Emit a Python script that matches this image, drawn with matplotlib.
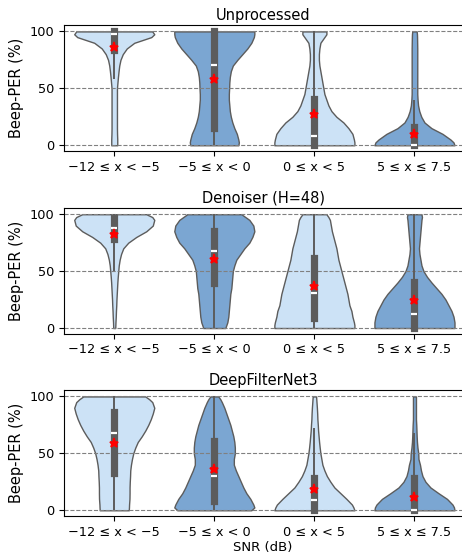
import matplotlib.pyplot as plt

# Catégories SNR et titres des panneaux
categories = ["−12 ≤ x < −5", "−5 ≤ x < 0", "0 ≤ x < 5", "5 ≤ x ≤ 7.5"]
titles = ["Unprocessed", "Denoiser (H=48)", "DeepFilterNet3"]

# Niveaux de Beep-PER où la densité (demi-largeur) est lue
levels = [0, 2.5, 5, 10, 15, 20, 25, 30, 35, 40, 45, 50,
          55, 60, 65, 70, 75, 80, 85, 90, 95, 97.5, 100]

# Profils de densité (un par catégorie)
unproc_shape = [
    [0.03, 0.03, 0.03, 0.028, 0.027, 0.027, 0.027, 0.027, 0.027, 0.027, 0.027, 0.027,
     0.032, 0.037, 0.043, 0.05, 0.062, 0.085, 0.125, 0.2, 0.37, 0.4, 0.38],
    [0.24, 0.245, 0.24, 0.225, 0.2, 0.18, 0.165, 0.155, 0.15, 0.145, 0.145, 0.148,
     0.15, 0.155, 0.165, 0.185, 0.23, 0.28, 0.33, 0.37, 0.395, 0.4, 0.4],
    [0.4, 0.4, 0.395, 0.38, 0.34, 0.29, 0.22, 0.17, 0.14, 0.12, 0.1, 0.09,
     0.08, 0.07, 0.06, 0.05, 0.045, 0.045, 0.05, 0.06, 0.1, 0.12, 0.12],
    [0.4, 0.39, 0.36, 0.28, 0.17, 0.1, 0.068, 0.048, 0.036, 0.031, 0.028, 0.028,
     0.028, 0.028, 0.028, 0.028, 0.028, 0.028, 0.028, 0.027, 0.026, 0.025, 0.022],
]
denoiser_shape = [
    [0.01, 0.011, 0.012, 0.015, 0.017, 0.02, 0.022, 0.025, 0.028, 0.031, 0.035, 0.04,
     0.045, 0.054, 0.068, 0.09, 0.14, 0.22, 0.32, 0.385, 0.4, 0.38, 0.32],
    [0.11, 0.12, 0.13, 0.14, 0.145, 0.15, 0.155, 0.16, 0.17, 0.175, 0.18, 0.185,
     0.2, 0.22, 0.26, 0.3, 0.35, 0.38, 0.4, 0.39, 0.35, 0.31, 0.27],
    [0.4, 0.4, 0.395, 0.38, 0.37, 0.35, 0.34, 0.33, 0.315, 0.3, 0.285, 0.27,
     0.255, 0.24, 0.23, 0.22, 0.205, 0.19, 0.175, 0.165, 0.155, 0.14, 0.12],
    [0.4, 0.4, 0.4, 0.39, 0.37, 0.34, 0.31, 0.27, 0.22, 0.17, 0.125, 0.09,
     0.07, 0.06, 0.05, 0.045, 0.05, 0.055, 0.06, 0.065, 0.07, 0.075, 0.07],
]
dfn3_shape = [
    [0.145, 0.147, 0.148, 0.152, 0.153, 0.153, 0.155, 0.158, 0.16, 0.167, 0.177, 0.19,
     0.21, 0.235, 0.275, 0.31, 0.34, 0.365, 0.385, 0.4, 0.38, 0.35, 0.31],
    [0.37, 0.4, 0.39, 0.36, 0.32, 0.29, 0.265, 0.24, 0.215, 0.195, 0.195, 0.205,
     0.205, 0.2, 0.19, 0.175, 0.16, 0.14, 0.12, 0.1, 0.075, 0.06, 0.04],
    [0.4, 0.39, 0.375, 0.32, 0.26, 0.2, 0.16, 0.125, 0.1, 0.08, 0.07, 0.06,
     0.053, 0.047, 0.042, 0.037, 0.034, 0.03, 0.028, 0.025, 0.021, 0.019, 0.017],
    [0.4, 0.395, 0.38, 0.325, 0.24, 0.16, 0.11, 0.08, 0.065, 0.055, 0.04, 0.038,
     0.03, 0.025, 0.022, 0.02, 0.018, 0.015, 0.015, 0.015, 0.015, 0.015, 0.015],
]

# Statistiques des boîtes (q1, q3, médiane, moyenne, moustaches)
unproc_q1 = [84, 15, 0, 0]
unproc_q3 = [100, 100, 41, 16]
unproc_med = [98, 70.6, 8, 0]
unproc_mean = [86, 58.3, 27.3, 10]
unproc_wlo = [58, 0, 0, 0]
unproc_whi = [100, 100, 100, 40]

denoiser_q1 = [78, 40, 8.5, 0]
denoiser_q3 = [96.5, 85, 61.5, 40.5]
denoiser_med = [88, 68, 31, 12.3]
denoiser_mean = [83, 60.7, 37, 25]
denoiser_wlo = [50, 0, 0, 0]
denoiser_whi = [100, 100, 100, 100]

dfn3_q1 = [33, 8, 0, 0]
dfn3_q3 = [86, 61, 28.5, 28]
dfn3_med = [67.5, 30, 9, 0]
dfn3_mean = [59.3, 36.5, 19, 12]
dfn3_wlo = [0, 0, 0, 0]
dfn3_whi = [100, 100, 72, 68]

shapes = [unproc_shape, denoiser_shape, dfn3_shape]
q1s = [unproc_q1, denoiser_q1, dfn3_q1]
q3s = [unproc_q3, denoiser_q3, dfn3_q3]
meds = [unproc_med, denoiser_med, dfn3_med]
means = [unproc_mean, denoiser_mean, dfn3_mean]
wlos = [unproc_wlo, denoiser_wlo, dfn3_wlo]
whis = [unproc_whi, denoiser_whi, dfn3_whi]

light = '#cce2f6'
medium = '#7ba6d2'
gray = '#5c5c5c'

fig = plt.figure(figsize=(4.62, 5.59), dpi=100)
bottoms = [0.730, 0.403, 0.077]

for p in range(3):
    ax = fig.add_axes([0.139, bottoms[p], 0.861, 0.225])
    pos = list(range(len(categories)))

    vpstats = []
    for i in pos:
        vpstats.append({'coords': levels, 'vals': shapes[p][i],
                        'mean': means[p][i], 'median': meds[p][i],
                        'min': 0, 'max': 100})
    parts = ax.violin(vpstats, positions=pos, widths=0.8,
                      showmeans=False, showextrema=False, showmedians=False)
    for i, body in enumerate(parts['bodies']):
        body.set_facecolor(light if i % 2 == 0 else medium)
        body.set_edgecolor(gray)
        body.set_linewidth(1.0)
        body.set_alpha(1)

    for i in pos:
        ax.plot([i, i], [wlos[p][i], whis[p][i]], color=gray, lw=1.4,
                solid_capstyle='butt')
        ax.plot([i, i], [q1s[p][i], q3s[p][i]], color=gray, lw=5.2,
                solid_capstyle='projecting')
        ax.plot(i, meds[p][i], marker='_', ms=5, mew=1.6, color='white')
        ax.plot(i, means[p][i], marker='*', ms=6.5, mew=1.2,
                color='red', mec='red', zorder=5)

    ax.set_xlim(-0.5, 3.475)
    ax.set_ylim(-5, 105.5)
    ax.set_yticks([0, 50, 100])
    ax.set_xticks(pos)
    ax.set_xticklabels(categories)
    ax.tick_params(labelsize=9.3)
    ax.yaxis.grid(True, linestyle='--', color='gray', lw=0.8)
    ax.set_axisbelow('line')
    ax.spines['right'].set_visible(False)
    ax.set_title(titles[p], fontsize=10.5, pad=4)
    ax.set_ylabel('Beep-PER (%)', fontsize=10.5)
    if p == 2:
        ax.set_xlabel('SNR (dB)', fontsize=9.5, labelpad=2)

fig.savefig('out.png', dpi=100)
